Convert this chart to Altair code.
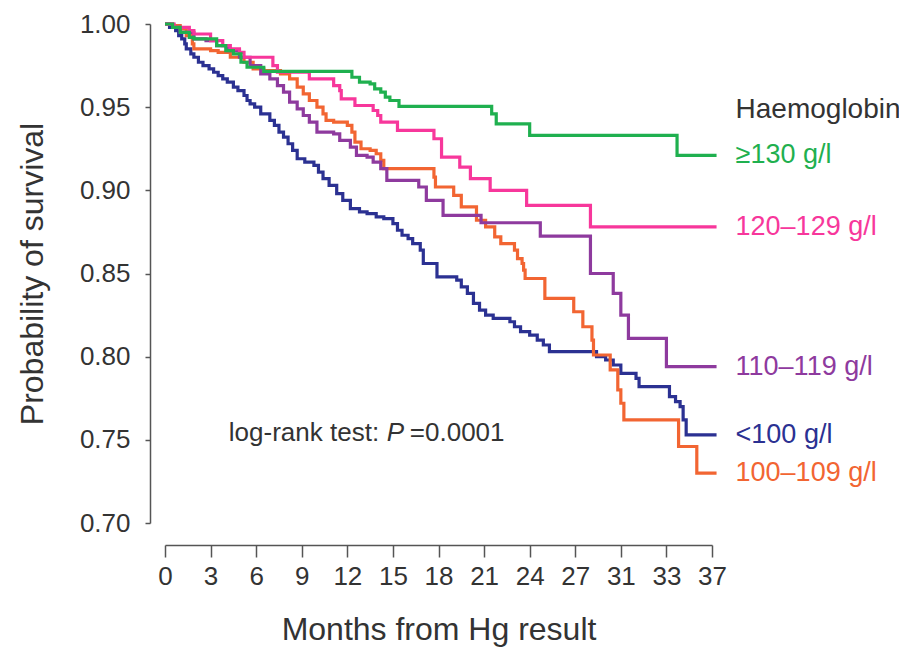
import altair as alt
import pandas as pd

# ---------------- data ----------------
groups = ["<100 g/l", "100–109 g/l", "110–119 g/l", "120–129 g/l", "≥130 g/l"]
colors = ["#2B3192", "#F26532", "#8E3A9E", "#F7379B", "#1FB04F"]
draw_order = ["<100 g/l", "100–109 g/l", "110–119 g/l", "120–129 g/l", "≥130 g/l"]

blue_t = [0, 0.3, 0.7, 0.9, 1.1, 1.3, 1.4, 1.7, 1.9, 2.2, 2.5, 2.9, 3.2, 3.5, 3.8, 4.1, 4.5, 4.8,
          5.2, 5.4, 5.6, 5.9, 6.3, 6.9, 7.2, 7.5, 7.8, 8.1, 8.4, 8.7, 9.2, 9.8, 10.1, 10.4, 10.8,
          11.3, 11.7, 12.2, 12.8, 13.3, 13.9, 14.4, 15.0, 15.3, 15.6, 16.0, 16.3, 16.8, 17.0,
          17.9, 19.2, 19.5, 19.9, 20.3, 20.7, 21.1, 21.6, 22.7, 23.0, 23.4, 24.0, 24.5, 24.9,
          25.3, 28.4, 29.0, 29.5, 30.0, 31.0, 31.2, 33.2, 33.6, 33.9, 34.1, 34.3, 36.3]
blue_s = [1.000, 0.998, 0.996, 0.993, 0.991, 0.988, 0.985, 0.982, 0.980, 0.977, 0.975, 0.973,
          0.971, 0.969, 0.967, 0.965, 0.962, 0.960, 0.957, 0.954, 0.952, 0.950, 0.946, 0.942,
          0.939, 0.935, 0.932, 0.928, 0.924, 0.919, 0.917, 0.915, 0.911, 0.907, 0.903, 0.898,
          0.894, 0.889, 0.887, 0.886, 0.884, 0.883, 0.880, 0.876, 0.873, 0.871, 0.868, 0.864,
          0.856, 0.848, 0.846, 0.842, 0.838, 0.832, 0.828, 0.825, 0.823, 0.821, 0.818, 0.815,
          0.813, 0.810, 0.807, 0.803, 0.800, 0.798, 0.795, 0.790, 0.787, 0.782, 0.776, 0.773,
          0.770, 0.762, 0.753, 0.753]

orange_t = [0, 0.5, 1.0, 1.4, 1.8, 1.9, 3.0, 3.5, 4.3, 5.2, 5.8, 6.5, 7.6, 8.2, 8.7, 9.1, 9.5,
            10.0, 10.4, 10.6, 11.1, 12.0, 12.3, 12.5, 12.9, 13.5, 13.9, 14.2, 14.4, 17.7, 17.8,
            19.0, 19.5, 20.5, 21.1, 21.7, 22.1, 23.0, 23.2, 23.5, 23.6, 23.7, 25.0, 26.9, 27.5,
            28.1, 28.2, 29.3, 29.8, 30.0, 30.2, 33.8, 35.0, 36.3]
orange_s = [1.000, 0.999, 0.997, 0.993, 0.988, 0.985, 0.984, 0.983, 0.980, 0.977, 0.973, 0.972,
            0.970, 0.967, 0.962, 0.958, 0.954, 0.950, 0.946, 0.942, 0.941, 0.939, 0.935, 0.929,
            0.925, 0.924, 0.922, 0.918, 0.913, 0.908, 0.902, 0.897, 0.890, 0.882, 0.878, 0.872,
            0.868, 0.864, 0.859, 0.856, 0.852, 0.847, 0.835, 0.827, 0.818, 0.810, 0.801, 0.792,
            0.780, 0.772, 0.762, 0.746, 0.730, 0.730]

purple_t = [0, 0.5, 1.0, 1.9, 2.7, 3.4, 4.1, 4.9, 5.6, 6.3, 6.9, 7.4, 7.8, 8.2, 8.7, 9.1, 9.5,
            10.0, 11.1, 11.5, 12.2, 12.6, 13.3, 13.7, 14.2, 14.6, 16.7, 17.2, 18.3, 20.8, 24.7,
            28.0, 29.5, 30.0, 30.5, 33.0, 36.3]
purple_s = [1.000, 0.998, 0.995, 0.991, 0.990, 0.987, 0.984, 0.980, 0.975, 0.970, 0.967, 0.963,
            0.959, 0.953, 0.949, 0.945, 0.941, 0.935, 0.934, 0.930, 0.926, 0.921, 0.920, 0.917,
            0.913, 0.906, 0.902, 0.894, 0.885, 0.8805, 0.8725, 0.850, 0.838, 0.825, 0.811,
            0.794, 0.794]

pink_t = [0, 0.6, 1.6, 1.9, 3.0, 3.8, 4.3, 4.9, 5.2, 7.1, 7.4, 9.5, 11.1, 11.5, 11.6, 12.5,
          13.7, 14.0, 14.2, 15.3, 17.7, 18.2, 19.4, 20.1, 21.4, 23.8, 28.0, 36.3]
pink_s = [1.000, 0.998, 0.996, 0.994, 0.990, 0.987, 0.985, 0.983, 0.980, 0.975, 0.971, 0.967,
          0.963, 0.960, 0.955, 0.951, 0.948, 0.945, 0.941, 0.936, 0.931, 0.920, 0.914, 0.907,
          0.900, 0.891, 0.878, 0.878]

green_t = [0, 0.5, 1.0, 1.6, 1.9, 3.4, 4.0, 4.5, 5.0, 5.4, 6.5, 12.3, 12.8, 13.5, 13.8, 14.2,
           14.5, 14.8, 15.4, 21.5, 21.8, 24.0, 33.7, 36.3]
green_s = [1.000, 0.998, 0.995, 0.992, 0.991, 0.987, 0.984, 0.982, 0.977, 0.974, 0.9715, 0.968,
           0.965, 0.964, 0.961, 0.959, 0.956, 0.954, 0.9505, 0.946, 0.940, 0.933, 0.921, 0.921]

x_tick_values = [0, 3, 6, 9, 12, 15, 18, 21, 24, 27, 30, 33, 36]
x_tick_labels = ["0", "3", "6", "9", "12", "15", "18", "21", "24", "27", "31", "33", "37"]
y_tick_values = [0.70, 0.75, 0.80, 0.85, 0.90, 0.95, 1.00]

legend_title = "Haemoglobin"
annotation_parts = ["log-rank test:", "P", "=0.0001"]
annotation_x = 4.2
annotation_y = 0.754
legend_title_y = 0.948

# ---------------- build table ----------------
series = {
    "<100 g/l": (blue_t, blue_s),
    "100–109 g/l": (orange_t, orange_s),
    "110–119 g/l": (purple_t, purple_s),
    "120–129 g/l": (pink_t, pink_s),
    "≥130 g/l": (green_t, green_s),
}
rows = []
ends = []
for g, (ts, ss) in series.items():
    for i, (t, s) in enumerate(zip(ts, ss)):
        rows.append({"group": g, "t": t, "s": s, "idx": i})
    ends.append({"group": g, "t": ts[-1], "s": ss[-1]})
df = pd.DataFrame(rows)
end_df = pd.DataFrame(ends)

FONT = "Liberation Sans"
TXT = "#333333"
AX = "#555555"

label_expr = "[" + ",".join("'%s'" % l for l in x_tick_labels) + "][round(datum.value / 3)]"

color_scale = alt.Scale(domain=groups, range=colors)
x_scale = alt.Scale(domain=[0, 36], nice=False, zero=False)
y_scale = alt.Scale(domain=[0.70, 1.00], nice=False, zero=False)

x_axis = alt.Axis(values=x_tick_values, labelExpr=label_expr, offset=22, tickSize=12,
                  tickWidth=1.5, domainWidth=1.5, domainColor=AX, tickColor=AX,
                  labelFont=FONT, labelFontSize=26, labelColor=TXT, labelPadding=6,
                  labelFlush=False, labelOverlap=False, grid=False,
                  title="Months from Hg result", titleFont=FONT, titleFontSize=32,
                  titleFontWeight="normal", titleColor=TXT, titlePadding=25)
y_axis = alt.Axis(values=y_tick_values, format=".2f", offset=15, tickSize=5,
                  tickWidth=1.5, domainWidth=1.5, domainColor=AX, tickColor=AX,
                  labelFont=FONT, labelFontSize=26, labelColor=TXT, labelPadding=15,
                  labelFlush=False, labelOverlap=False, grid=False,
                  title="Probability of survival", titleFont=FONT, titleFontSize=32,
                  titleFontWeight="normal", titleColor=TXT, titlePadding=30)

X = alt.X("t:Q", scale=x_scale, axis=x_axis)
Y = alt.Y("s:Q", scale=y_scale, axis=y_axis)

layers = []
for g in draw_order:
    layers.append(
        alt.Chart(df).transform_filter(alt.datum.group == g)
        .mark_line(interpolate="step-after", strokeWidth=3.2, strokeJoin="miter")
        .encode(
            x=X, y=Y,
            color=alt.Color("group:N", scale=color_scale, legend=None),
            order=alt.Order("idx:Q"),
        )
    )

labels = alt.Chart(end_df).mark_text(
    align="left", baseline="middle", dx=19, font=FONT, fontSize=27
).encode(
    x=X, y=Y,
    color=alt.Color("group:N", scale=color_scale, legend=None),
    text="group:N",
)

header_df = pd.DataFrame({"t": [green_t[-1]], "s": [legend_title_y], "label": [legend_title]})
header = alt.Chart(header_df).mark_text(
    align="left", baseline="middle", dx=19, font=FONT, fontSize=28, color=TXT
).encode(x=X, y=Y, text="label:N")

anno_df = pd.DataFrame({"t": [annotation_x], "s": [annotation_y]})
anno1 = alt.Chart(anno_df).mark_text(
    align="left", baseline="middle", font=FONT, fontSize=26, color=TXT, text=annotation_parts[0]
).encode(x=X, y=Y)
anno2 = alt.Chart(anno_df).mark_text(
    align="left", baseline="middle", dx=158, font=FONT, fontSize=26, fontStyle="italic",
    color=TXT, text=annotation_parts[1]
).encode(x=X, y=Y)
anno3 = alt.Chart(anno_df).mark_text(
    align="left", baseline="middle", dx=181, font=FONT, fontSize=26, color=TXT,
    text=annotation_parts[2]
).encode(x=X, y=Y)

chart = alt.layer(*layers, labels, header, anno1, anno2, anno3).properties(
    width=547, height=499,
    autosize=alt.AutoSizeParams(type="none"),
    padding={"left": 165, "top": 24, "right": 187, "bottom": 124},
    background="white",
).configure_view(stroke=None)

chart.save("out.html", embed_options={"renderer": "svg", "actions": False})
